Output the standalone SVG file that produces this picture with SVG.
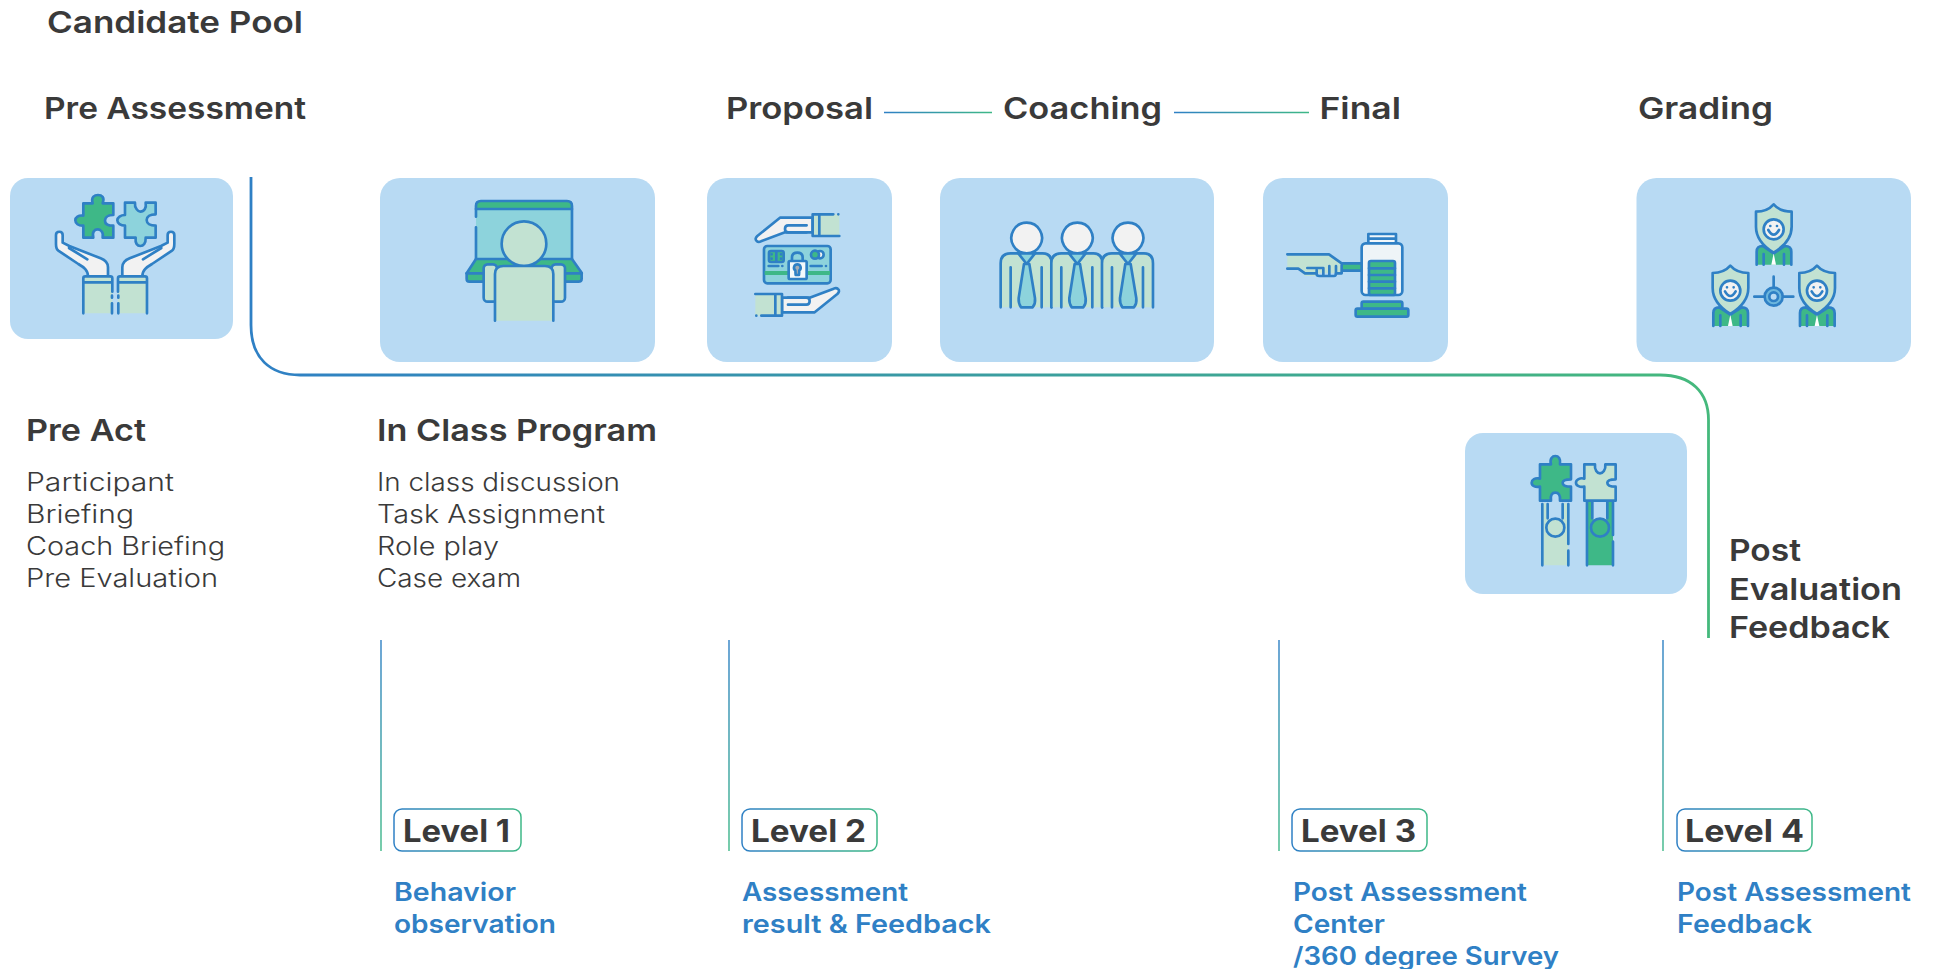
<svg xmlns="http://www.w3.org/2000/svg" width="1933" height="969" viewBox="0 0 1933 969">
<style>
text{font-family:"Inter","Noto Sans","Liberation Sans",sans-serif;fill:#3a3a3a}
.h{font-size:30.500px;font-weight:600}
.b{font-size:25px;font-weight:300}
.l{font-size:31px;font-weight:700}
.s{font-size:25px;font-weight:600;fill:#2f80c5}
.card{fill:#b8daf3}
.i *{stroke:#2f80c5;stroke-width:8;stroke-linecap:round;stroke-linejoin:round}
.g{fill:#3eb887}.t{fill:#8dd3dc}.m{fill:#c2e2d2}.w{fill:#f2f2f2}.n{fill:none}
</style>
<defs>
<linearGradient id="gMain" gradientUnits="userSpaceOnUse" x1="251" y1="0" x2="1710" y2="0"><stop offset="0" stop-color="#2f80c5"/><stop offset="1" stop-color="#45b97c"/></linearGradient>
<linearGradient id="gV" gradientUnits="userSpaceOnUse" x1="0" y1="640" x2="0" y2="851"><stop offset="0" stop-color="#2f80c5"/><stop offset="1" stop-color="#3eb887"/></linearGradient>
<linearGradient id="gH" x1="0" y1="0" x2="1" y2="0"><stop offset="0" stop-color="#2f80c5"/><stop offset="1" stop-color="#3eb887"/></linearGradient>
<linearGradient id="gH1" gradientUnits="userSpaceOnUse" x1="884" y1="0" x2="992" y2="0"><stop offset="0" stop-color="#2f80c5"/><stop offset="1" stop-color="#3eb887"/></linearGradient>
<linearGradient id="gH2" gradientUnits="userSpaceOnUse" x1="1174" y1="0" x2="1309" y2="0"><stop offset="0" stop-color="#2f80c5"/><stop offset="1" stop-color="#3eb887"/></linearGradient>
<g id="hand1">
<path class="w" d="M264 349C264 330 252 322 235 312L175 272C168 267 168 262 168 252V225C168 212 188 212 188 225V248L208 258L302 295C317 301 324 308 324 322V349Z"/>
<path class="n" d="M207 264L262 298"/>
<path class="m" style="stroke:none" d="M250 350H337V460H250Z"/>
<path class="n" d="M250 460V355Q250 349 256 349H331Q337 349 337 355V395M336 407V413M336 430V460M250 367H337"/>
</g>
<g id="person4">
<path class="m" d="M182 412V280Q182 250 212 250H308Q335 250 335 280V412" />
<path class="w" d="M260 158a46 46 0 1 0 .1 0Z"/>
<path class="t" d="M235 250L260 282L285 250Z"/>
<path class="t" d="M252 282L236 385Q235 400 243 412H278Q287 400 285 385L268 282Z"/>
<path class="n" d="M212 412V292M305 412V292"/>
</g>
<g id="guard">
<path class="g" d="M380 284V245Q380 228 398 228L431 250L465 228Q484 228 484 245V284"/>
<path class="w" style="stroke:none;fill:#fff" d="M431 250L424 284H438Z"/>
<path class="n" d="M401 284V252M462 284V252"/>
<path class="m" d="M431 103Q450 125 485 125V170Q485 215 431 248Q378 215 378 170V125Q412 125 431 103Z"/>
<circle class="w" cx="431" cy="178" r="30"/>
<path class="n" d="M415 180Q431 208 447 180M421 168V168M441 168V168"/>
</g>
</defs>

<g id="connectors" fill="none">
<path d="M251 177V325C251 358 270 375 300 375H1660C1691 375 1708.500 392 1708.500 420V638" stroke="url(#gMain)" stroke-width="2.800"/>
<path d="M884 112.500H992" stroke="url(#gH1)" stroke-width="1.400"/>
<path d="M1174 112.500H1309" stroke="url(#gH2)" stroke-width="1.400"/>
<path d="M381 640V851M729 640V851M1279 640V851M1663 640V851" stroke="url(#gV)" stroke-width="1.400"/>
</g>

<text class="h" x="47" y="33" textLength="256" lengthAdjust="spacingAndGlyphs">Candidate Pool</text>
<text class="h" x="44" y="119" textLength="262" lengthAdjust="spacingAndGlyphs">Pre Assessment</text>
<text class="h" x="726" y="119" textLength="147" lengthAdjust="spacingAndGlyphs">Proposal</text>
<text class="h" x="1003" y="119" textLength="159" lengthAdjust="spacingAndGlyphs">Coaching</text>
<text class="h" x="1319.500" y="119" textLength="81.500" lengthAdjust="spacingAndGlyphs">Final</text>
<text class="h" x="1638" y="119" textLength="135" lengthAdjust="spacingAndGlyphs">Grading</text>

<g id="n-pre-assessment"><rect class="card" x="10" y="178" width="223" height="161" rx="18"/>
<g class="i" transform="translate(0 160) scale(.3333)">
<path class="g" d="M250 130H278C272 110 285 105 294 105C305 105 315 112 308 130H340V165C320 165 315 175 315 182C315 192 325 197 340 197V233H308C312 215 300 208 293 208C285 208 275 215 280 233H250V197C235 198 226 190 226 181C226 172 235 165 250 167Z"/>
<path class="t" d="M375 128H405C403 145 415 155 421 155C432 155 440 145 437 128H467V163C450 163 440 170 440 180C440 190 450 197 467 197V233H437C438 250 430 258 421 258C412 258 405 250 407 233H375V197C362 197 352 190 352 181C352 172 362 165 375 165Z"/>
<use href="#hand1"/><use href="#hand1" transform="matrix(-1 0 0 1 691 0)"/>
</g></g>

<g id="n-class"><rect class="card" x="380" y="178" width="275" height="184" rx="20"/>
<g class="i" transform="translate(370 170) scale(.3333)">
<path class="t" style="stroke:none" d="M318 110H606V270H318Z"/>
<path class="g" d="M318 117V108Q318 93 333 93H591Q606 93 606 108V117Z"/>
<path class="n" d="M318 117V140M318 172V267M606 117V267"/>
<path class="g" d="M318 267H606L635 308V326Q635 335 625 335H298Q290 335 290 326V310Z"/>
<path class="n" d="M290 310H635"/>
<rect class="m" x="341" y="283" width="40" height="112" rx="12"/>
<rect class="m" x="545" y="283" width="40" height="112" rx="12"/>
<circle class="m" cx="462" cy="221" r="67"/>
<path class="m" d="M375 452V312Q375 288 400 288H525Q550 288 550 312V452"/>
</g></g>

<g id="n-proposal"><rect class="card" x="707" y="178" width="185" height="184" rx="20"/>
<g class="i" transform="translate(700 170) scale(.3333)">
<g id="h3">
<path class="w" d="M338 143H240L172 198Q163 207 170 213Q175 218 183 214L255 187H338Z"/>
<path class="n" d="M320 166H265Q255 166 255 177Q255 187 265 187H320"/>
<path class="m" style="stroke:none" d="M338 133H418V198H338Z"/>
<path class="n" d="M400 133H338V198H418M415 133V133M358 133V198"/>
</g>
<use href="#h3" transform="rotate(180 292 285)"/>
<rect class="t" x="192" y="228" width="200" height="112" rx="10"/>
<rect class="g" x="207" y="243" width="44" height="33" rx="6"/>
<path class="n" d="M229 246V273M215 253V253M215 266V266M243 253V253M243 266V266"/>
<circle class="w" cx="360" cy="254" r="11"/><circle class="g" cx="345" cy="254" r="12"/>
<path class="g" style="stroke:none" d="M194 303H390V315H194Z"/>
<path class="n" d="M206 288H235M247 288V288M332 288H365M378 288V288"/>
<path class="n" d="M276 273V262Q276 248 292 248Q308 248 308 262V273"/>
<rect x="266" y="273" width="54" height="54" rx="4" fill="#f4f9fb"/>
<path fill="#a5adb5" d="M292 283a10 10 0 0 1 6 18L297 315H287L286 301a10 10 0 0 1 6-18Z"/>
</g></g>

<g id="n-coaching"><rect class="card" x="940" y="178" width="274" height="184" rx="20"/>
<g class="i" transform="translate(940 170) scale(.3333)">
<use href="#person4"/><use href="#person4" x="152"/><use href="#person4" x="304"/>
</g></g>

<g id="n-final"><rect class="card" x="1263" y="178" width="185" height="184" rx="20"/>
<g class="i" transform="translate(1260 170) scale(.3333)">
<rect class="g" x="245" y="280" width="62" height="22"/>
<path class="m" style="stroke:none" d="M82 253H207L245 280V310H170L165 318H135L115 296H82Z"/>
<path class="n" d="M82 253H207L245 280V310H228M82 296H115L135 310H168"/>
<path class="n" d="M142 294H190M170 300V312Q170 318 178 318H222Q228 318 228 310V288M190 294V318M208 288V318"/>
<rect x="325" y="192" width="83" height="28" fill="#f2f7fa"/>
<path class="n" d="M327 206H405M365 221V221"/>
<rect x="305" y="220" width="122" height="155" rx="12" fill="#eef4f7"/>
<rect class="g" x="327" y="273" width="78" height="102" rx="6"/>
<path class="n" d="M327 295H405M327 315H405M327 335H405M327 355H405"/>
<rect class="g" x="305" y="395" width="122" height="22" rx="5"/>
<rect class="g" x="287" y="416" width="158" height="24" rx="5"/>
</g></g>

<g id="n-grading"><rect class="card" x="1636.500" y="178" width="274.500" height="184" rx="20"/>
<g class="i" transform="translate(1630 170) scale(.3333)">
<use href="#guard"/><use href="#guard" x="-130" y="184"/><use href="#guard" x="130" y="184"/>
<path class="n" d="M431 320V352M373 380H490"/>
<circle cx="431" cy="380" r="27" fill="#6db7dd"/>
<circle cx="431" cy="380" r="13" fill="#b8daf3"/>
</g></g>

<g id="n-post"><rect class="card" x="1465" y="433" width="222" height="161" rx="18"/>
<g class="i" transform="translate(1450 420) scale(.3333)">
<path class="m" style="stroke:none" d="M277 250H293V298H338V250H355V436H277Z"/>
<path class="n" d="M277 436V252M355 252V372M355 392V436M293 252V295M338 252V295"/>
<circle class="m" cx="316" cy="323" r="27"/>
<path class="g" style="stroke:none" d="M411 245H427V298H472V245H489V436H411Z"/>
<path class="n" d="M411 436V245M489 245V345M489 365V436M427 245V295M472 245V295"/>
<circle class="g" cx="450" cy="323" r="27"/>
<path class="g" d="M270 133H303C298 115 308 108 316 108C325 108 333 115 330 133H363V178C345 178 338 182 338 188C338 196 345 200 363 200V242H330C332 225 325 218 316 218C307 218 300 225 303 242H270V200C255 203 245 197 245 188C245 180 255 172 270 176Z"/>
<path class="m" d="M403 133H435C433 150 442 160 450 160C458 160 468 150 466 133H497V178C480 178 472 182 472 188C472 196 480 200 497 200V242H403V200C390 203 378 197 378 188C378 180 390 172 403 176Z"/>
</g></g>

<text class="h" x="26" y="441" textLength="120" lengthAdjust="spacingAndGlyphs">Pre Act</text>
<text class="h" x="377" y="441" textLength="280" lengthAdjust="spacingAndGlyphs">In Class Program</text>
<text class="b" x="26" y="491" textLength="148" lengthAdjust="spacingAndGlyphs">Participant</text>
<text class="b" x="26" y="523" textLength="108" lengthAdjust="spacingAndGlyphs">Briefing</text>
<text class="b" x="26" y="555" textLength="199" lengthAdjust="spacingAndGlyphs">Coach Briefing</text>
<text class="b" x="26" y="587" textLength="192" lengthAdjust="spacingAndGlyphs">Pre Evaluation</text>
<text class="b" x="377" y="491" textLength="243" lengthAdjust="spacingAndGlyphs">In class discussion</text>
<text class="b" x="377" y="523" textLength="228" lengthAdjust="spacingAndGlyphs">Task Assignment</text>
<text class="b" x="377" y="555" textLength="122" lengthAdjust="spacingAndGlyphs">Role play</text>
<text class="b" x="377" y="587" textLength="144" lengthAdjust="spacingAndGlyphs">Case exam</text>
<text class="h" x="1729" y="561" textLength="72" lengthAdjust="spacingAndGlyphs">Post</text>
<text class="h" x="1729" y="600" textLength="173" lengthAdjust="spacingAndGlyphs">Evaluation</text>
<text class="h" x="1729" y="638" textLength="161" lengthAdjust="spacingAndGlyphs">Feedback</text>

<g id="level1"><rect x="394" y="809" width="127" height="42" rx="8" fill="none" stroke="url(#gH)" stroke-width="1.500"/>
<text class="l" x="403" y="842" textLength="107" lengthAdjust="spacingAndGlyphs">Level 1</text></g>
<g id="level2"><rect x="742" y="809" width="135" height="42" rx="8" fill="none" stroke="url(#gH)" stroke-width="1.500"/>
<text class="l" x="751" y="842" textLength="115" lengthAdjust="spacingAndGlyphs">Level 2</text></g>
<g id="level3"><rect x="1292" y="809" width="135" height="42" rx="8" fill="none" stroke="url(#gH)" stroke-width="1.500"/>
<text class="l" x="1301" y="842" textLength="115" lengthAdjust="spacingAndGlyphs">Level 3</text></g>
<g id="level4"><rect x="1677" y="809" width="135" height="42" rx="8" fill="none" stroke="url(#gH)" stroke-width="1.500"/>
<text class="l" x="1685" y="842" textLength="119" lengthAdjust="spacingAndGlyphs">Level 4</text></g>

<text class="s" x="394" y="901" textLength="122" lengthAdjust="spacingAndGlyphs">Behavior</text>
<text class="s" x="394" y="933" textLength="162" lengthAdjust="spacingAndGlyphs">observation</text>
<text class="s" x="742" y="901" textLength="166" lengthAdjust="spacingAndGlyphs">Assessment</text>
<text class="s" x="742" y="933" textLength="249" lengthAdjust="spacingAndGlyphs">result &amp; Feedback</text>
<text class="s" x="1293" y="901" textLength="234" lengthAdjust="spacingAndGlyphs">Post Assessment</text>
<text class="s" x="1293" y="933" textLength="92" lengthAdjust="spacingAndGlyphs">Center</text>
<text class="s" x="1293" y="965" textLength="266" lengthAdjust="spacingAndGlyphs">/360 degree Survey</text>
<text class="s" x="1677" y="901" textLength="234" lengthAdjust="spacingAndGlyphs">Post Assessment</text>
<text class="s" x="1677" y="933" textLength="135" lengthAdjust="spacingAndGlyphs">Feedback</text>
</svg>
